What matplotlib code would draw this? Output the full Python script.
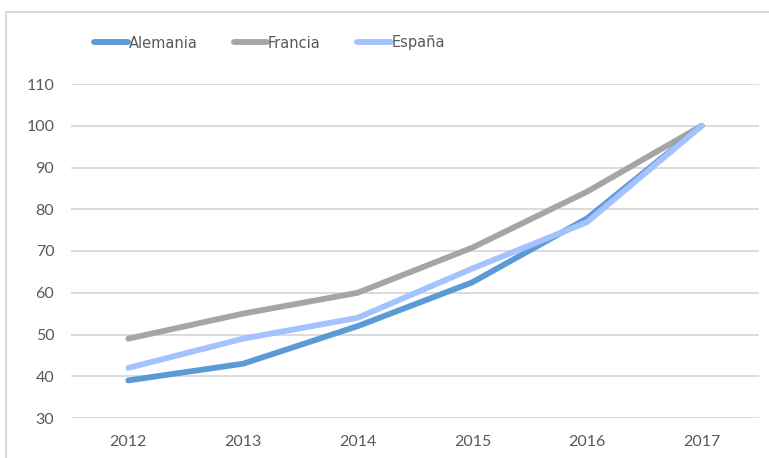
import matplotlib
matplotlib.use("Agg")
import matplotlib.pyplot as plt
from matplotlib.patches import Rectangle

years = ["2012", "2013", "2014", "2015", "2016", "2017"]
alemania = [39, 43, 52, 62.5, 77.8, 100]
francia = [49, 55, 60, 70.8, 84.2, 100]
espana = [42, 49, 54, 65.8, 76.9, 100]
yticks = [30, 40, 50, 60, 70, 80, 90, 100, 110]

plt.rcParams['font.family'] = ['Lato', 'DejaVu Sans']

W, H = 769, 458
fig = plt.figure(figsize=(W / 100, H / 100), dpi=100)
ax = fig.add_axes([71 / W, 1 - 418 / H, (759 - 71) / W, (418 - 84) / H])

x = list(range(len(years)))
ax.plot(x, alemania, color="#5b9bd5", lw=4.2, solid_capstyle="round", label="Alemania", zorder=3)
ax.plot(x, francia, color="#a5a5a5", lw=4.2, solid_capstyle="round", label="Francia", zorder=2)
ax.plot(x, espana, color="#a4c2fd", lw=4.2, solid_capstyle="round", label="España", zorder=4)

ax.set_xlim(-0.5, len(years) - 0.5)
ax.set_ylim(30, 110)
ax.set_xticks(x)
ax.set_xticklabels(years)
ax.set_yticks(yticks)
ax.grid(axis="y", color="#d9d9d9", lw=1.3)
ax.set_axisbelow(True)
for s in ax.spines.values():
    s.set_visible(False)
ax.tick_params(length=0, labelsize=11.5, colors="#595959")
ax.tick_params(axis="y", pad=12)
ax.tick_params(axis="x", pad=12)

leg = fig.legend(loc="center left", bbox_to_anchor=(81 / W, 1 - 43 / H), ncol=3,
                 frameon=False, handlelength=2.3, handletextpad=0.05,
                 columnspacing=2.5, labelcolor="#595959",
                 prop={'family': ['Liberation Sans Narrow', 'DejaVu Sans Condensed', 'DejaVu Sans'], 'size': 10.5})

fig.patches.append(Rectangle((6 / W, -0.05), 1.1, 1 - 12 / H + 0.05, transform=fig.transFigure,
                             fill=False, edgecolor="#d9d9d9", lw=1.5))

fig.savefig("out.png", dpi=100)
